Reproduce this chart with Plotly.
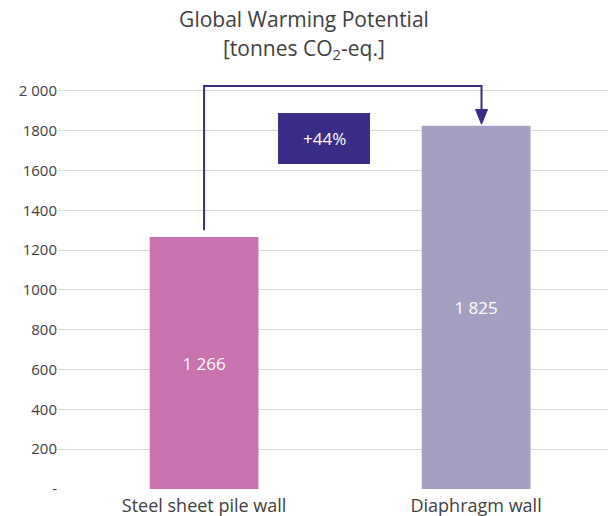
import plotly.graph_objects as go

categories = ["Steel sheet pile wall", "Diaphragm wall"]
values = [1266, 1825]
bar_colors = ["#C873AE", "#A5A0C2"]
tick_vals = [0, 200, 400, 600, 800, 1000, 1200, 1400, 1600, 1800, 2000]
tick_text = ["-", "200", "400", "600", "800", "1000", "1200", "1400", "1600", "1800", "2 000"]
title_line1 = "Global Warming Potential"
title_line2 = "[tonnes CO<sub>2</sub>-eq.]"

FONT = "Open Sans"
DARK = "#392C86"
TXT = "#404040"

xs = list(range(len(categories)))
labels = [f"{v:,}".replace(",", " ") for v in values]
pct = (values[1] / values[0] - 1) * 100

fig = go.Figure()
fig.add_trace(go.Bar(
    x=xs, y=values, width=0.4,
    marker=dict(color=bar_colors, line=dict(width=0)),
    text=labels, textposition="inside", insidetextanchor="middle",
    textfont=dict(color="white", size=17, family=FONT),
    hoverinfo="skip",
))

# connector line from bar 1 to bar 2
x_l, x_r = xs[0], xs[1] + 0.02
y_top = 2025
fig.add_shape(type="path",
              path=f"M {x_l},{values[0] + 34} L {x_l},{y_top} L {x_r},{y_top} L {x_r},{values[1] + 80}",
              line=dict(color=DARK, width=2), xref="x", yref="y", layer="above")
fig.add_shape(type="path",
              path=f"M {x_r - 0.022},{values[1] + 82} L {x_r + 0.022},{values[1] + 82} L {x_r},{values[1] + 8} Z",
              fillcolor=DARK, line=dict(color=DARK, width=1), xref="x", yref="y", layer="above")

# percentage box
fig.add_shape(type="rect", x0=0.272, x1=0.61, y0=1633, y1=1889,
              fillcolor=DARK, line=dict(width=0), xref="x", yref="y", layer="above")
fig.add_annotation(x=0.441, y=1761, xref="x", yref="y", text=f"+{pct:.0f}%",
                   showarrow=False, font=dict(color="white", size=17, family=FONT))

# title second line
fig.add_annotation(x=(304 - 58) / 550, xref="paper", xanchor="center", y=1 + (83 - 49) / 406,
                   yref="paper", yanchor="middle", text=title_line2, showarrow=False,
                   font=dict(size=21, family=FONT, color=TXT))

fig.update_layout(
    width=608, height=516,
    margin=dict(l=58, r=0, t=83, b=27),
    paper_bgcolor="white", plot_bgcolor="white",
    font=dict(family=FONT, color=TXT),
    showlegend=False,
    title=dict(text=title_line1,
               x=0.5, xanchor="center", xref="container",
               y=1 - 20 / 516, yanchor="middle", yref="container",
               font=dict(size=21, family=FONT, color=TXT)),
    xaxis=dict(range=[-0.537, 1.485], tickvals=xs, ticktext=categories,
               showgrid=False, zeroline=False, showline=False, ticks="",
               ticklabelstandoff=4,
               tickfont=dict(size=18, color=TXT, family=FONT)),
    yaxis=dict(range=[0, 2040], tickvals=tick_vals, ticktext=tick_text,
               showgrid=True, gridcolor="#D9D9D9", gridwidth=1,
               zeroline=False, showline=False, ticks="",
               tickfont=dict(size=15, color=TXT, family=FONT)),
)

fig.write_html("out.html")
